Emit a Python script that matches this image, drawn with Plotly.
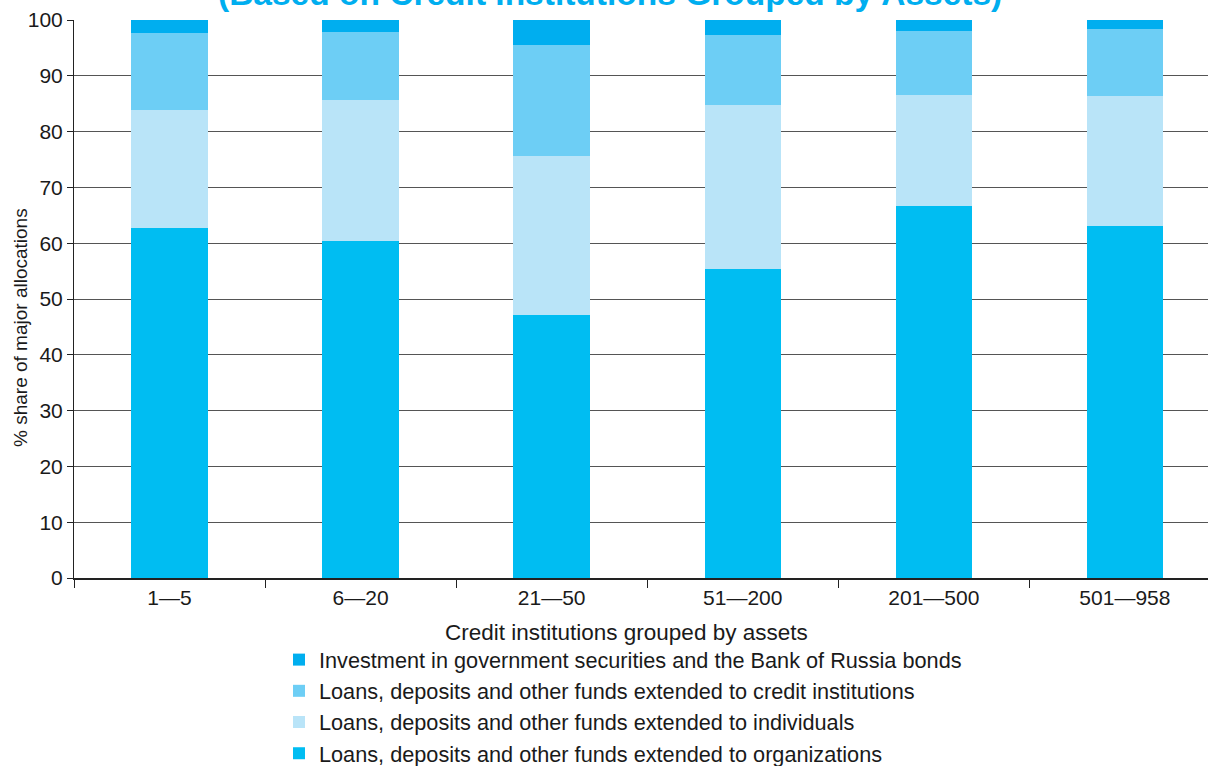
import plotly.graph_objects as go

categories = ["1—5", "6—20", "21—50", "51—200", "201—500", "501—958"]
organizations = [62.7, 60.4, 47.1, 55.4, 66.7, 63.1]
individuals = [21.2, 25.3, 28.5, 29.4, 19.9, 23.3]
credit_institutions = [13.8, 12.1, 19.9, 12.5, 11.4, 12.0]
government = [2.3, 2.2, 4.5, 2.7, 2.0, 1.6]

series = [
    ("Loans, deposits and other funds extended to organizations", organizations, "#00BDF2"),
    ("Loans, deposits and other funds extended to individuals", individuals, "#B9E4F8"),
    ("Loans, deposits and other funds extended to credit institutions", credit_institutions, "#6DCEF5"),
    ("Investment in government securities and the Bank of Russia bonds", government, "#00AEEF"),
]

FONT = "Liberation Sans"
W, H = 1208, 766
# plot area in page pixels
P_LEFT, P_TOP, P_BOTTOM, P_RIGHT = 74, 20, 578, 1208
ML, MT = P_LEFT, P_TOP
MB = H - P_BOTTOM
MR = W - P_RIGHT
PW, PH = W - ML - MR, H - MT - MB


def xp(page_x):
    return (page_x - P_LEFT) / PW


def yp(page_y):
    return (P_BOTTOM - page_y) / PH


fig = go.Figure()
for i, (name, vals, col) in enumerate(series):
    fig.add_trace(go.Bar(
        x=categories, y=vals, name=name, marker_color=col,
        marker_line_width=0, width=0.4, legendgroup=f"g{i}",
        legendrank=100 - i,
    ))

fig.update_layout(
    width=W, height=H,
    margin=dict(l=ML, r=MR, t=MT, b=MB, pad=0, autoexpand=False),
    barmode="stack",
    plot_bgcolor="white", paper_bgcolor="white",
    font=dict(family=FONT, size=21, color="#1a1a1a"),
    showlegend=True,
    legend=dict(
        orientation="v", traceorder="grouped", tracegroupgap=0,
        x=xp(279), xanchor="left",
        y=yp(639), yanchor="top",
        font=dict(family=FONT, size=21.7, color="#1a1a1a"),
        bgcolor="rgba(0,0,0,0)", itemwidth=30,
    ),
    xaxis=dict(
        type="category", range=[-0.5, 5.435],
        showline=True, linecolor="#222", linewidth=1.5,
        ticks="outside", tickson="boundaries", ticklen=8, tickcolor="#222",
        tickfont=dict(size=21), showgrid=False,
    ),
    yaxis=dict(
        range=[0, 100], dtick=10,
        showline=True, linecolor="#222", linewidth=1,
        ticks="outside", ticklen=6, tickcolor="#222",
        showgrid=True, gridcolor="#555", gridwidth=1,
        tickfont=dict(size=21), zeroline=False,
    ),
    annotations=[
        dict(text="% share of major allocations", xref="paper", yref="paper",
             x=xp(20), y=yp(328), xanchor="center", yanchor="middle",
             textangle=-90, showarrow=False, font=dict(size=19)),
        dict(text="Credit institutions grouped by assets", xref="paper", yref="paper",
             x=xp(626), y=yp(632), xanchor="center", yanchor="middle",
             showarrow=False, font=dict(size=22.5)),
        dict(text="<b>(Based on Credit Institutions Grouped by Assets)</b>", xref="paper", yref="paper",
             x=xp(610), y=yp(14.5),
             xanchor="center", yanchor="bottom", showarrow=False,
             font=dict(size=33.5, color="#00AEEF")),
    ],
)

fig.write_html("out.html", config={"displayModeBar": False},
               post_script="document.body.style.margin='0';")
